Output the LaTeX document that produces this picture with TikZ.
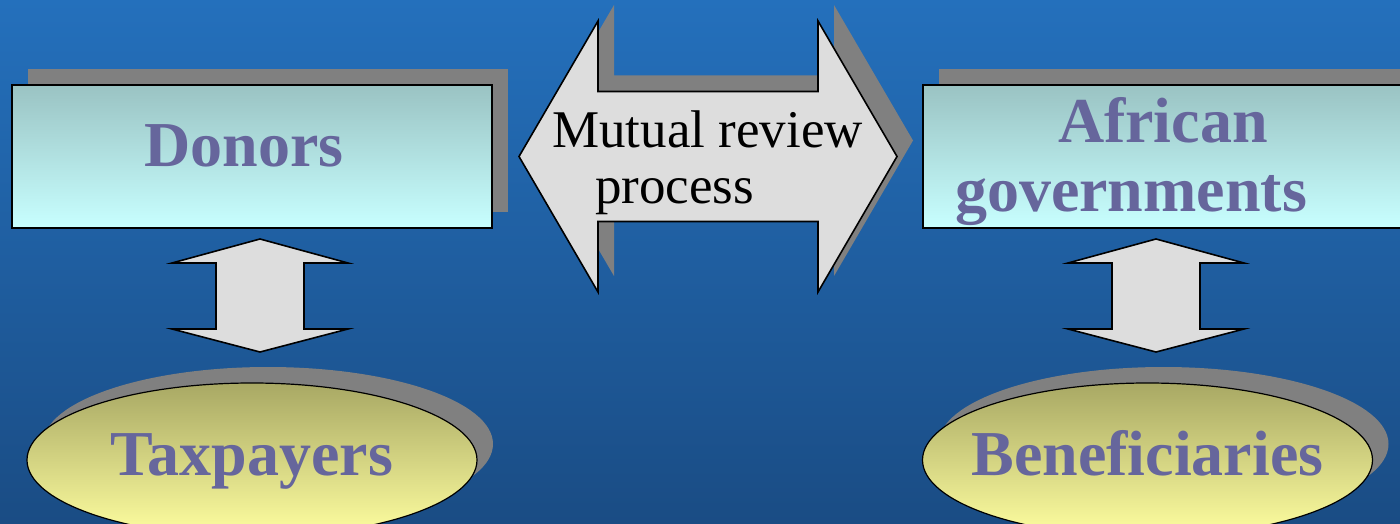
\documentclass[tikz,border=0pt]{standalone}
\usepackage{fontspec}
\setmainfont{Liberation Serif}
\usepackage{tikz}
\usetikzlibrary{shapes.geometric, shadows, calc, positioning}

\definecolor{bgtop}{RGB}{36,112,188}
\definecolor{bgbottom}{RGB}{26,76,132}
\definecolor{boxtop}{RGB}{154,195,195}
\definecolor{boxbottom}{RGB}{200,255,255}
\definecolor{ovaltop}{RGB}{168,168,100}
\definecolor{ovalbottom}{RGB}{255,255,160}
\definecolor{labelblue}{RGB}{102,102,156}
\definecolor{shadowgray}{RGB}{128,128,128}
\definecolor{arrowgray}{RGB}{221,221,221}

\begin{document}
\begin{tikzpicture}[
    x=1pt, y=-1pt,
    flatshadow/.style={drop shadow={shadow xshift=16pt, shadow yshift=16pt,
                       fill=shadowgray, opacity=1}},
    party/.style={rectangle, draw, line width=2pt, minimum width=480pt,
                  minimum height=143pt, inner sep=0pt,
                  top color=boxtop, bottom color=boxbottom, flatshadow},
    public/.style={ellipse, draw, line width=1.2pt, minimum width=450pt,
                   minimum height=154pt, inner sep=0pt,
                   top color=ovaltop, bottom color=ovalbottom, flatshadow},
    partylabel/.style={font=\bfseries\fontsize{64}{69}\selectfont,
                       text=labelblue, inner sep=0pt, align=left},
    fatarrow/.style={draw, line width=1.6pt, fill=arrowgray, line join=miter},
    fatshadow/.style={fill=shadowgray}
]
\useasboundingbox (0,0) rectangle (1400,524);
\clip (0,0) rectangle (1400,524);
\shade[top color=bgtop, bottom color=bgbottom] (0,0) rectangle (1400,524);

\node (donors)        [party]  at (252,156.5)  {};
\node (african)       [party]  at (1163,156.5) {};
\node (taxpayers)     [public] at (252,460)    {};
\node (beneficiaries) [public] at (1147.5,460) {};

\node (donorstext)        [partylabel, anchor=base] at (244,167)    {Donors};
\node (africantext)       [partylabel]              at (1131,162)   {\hspace*{103pt}African\\governments};
\node (taxpayerstext)     [partylabel, anchor=base] at (252,475)    {Taxpayers};
\node (beneficiariestext) [partylabel, anchor=base] at (1147.5,475) {Beneficiaries};

% mutual review arrow: shadow first, then the body
\def\reviewoutline{++(79,-135.5) -- ++(0,70.5) -- ++(220,0) -- ++(0,-70.5)
    -- ++(79,135.5) -- ++(-79,135.5) -- ++(0,-70.5) -- ++(-220,0)
    -- ++(0,70.5) -- cycle}
\path[fatshadow] ($(donors.east)+(42,-16)$) -- \reviewoutline;
\path[fatarrow]  ($(donors.east)+(26,0)$) -- \reviewoutline;
\node (reviewtext) [font=\fontsize{53}{56}\selectfont, align=left, inner sep=0pt]
    at (707.5,163) {Mutual review\\\hspace*{43pt}process};

% up/down arrows
\def\updownoutline{++(88,24) -- ++(-44,0) -- ++(0,66) -- ++(44,0)
    -- ++(-88,23) -- ++(-88,-23) -- ++(44,0) -- ++(0,-66)
    -- ++(-44,0) -- cycle}
\path[fatarrow] ($(donors.south)+(8,10)$) -- \updownoutline;
\path[fatarrow] ($(african.south)+(-7,10)$) -- \updownoutline;
\end{tikzpicture}
\end{document}
